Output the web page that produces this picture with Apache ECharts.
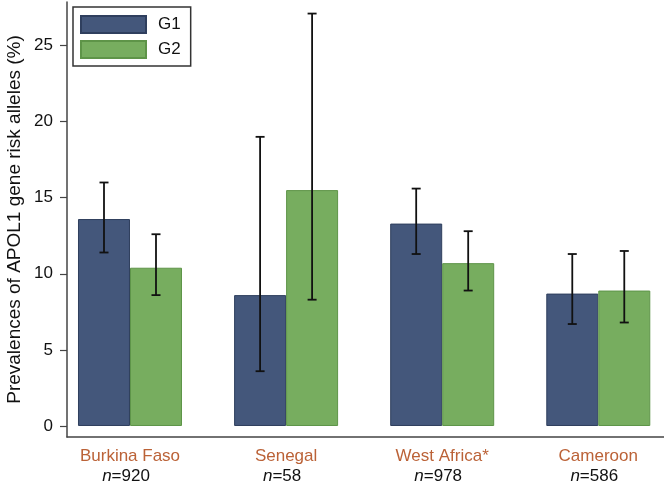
<!DOCTYPE html>
<html>
<head>
<meta charset="utf-8">
<script src="https://cdn.jsdelivr.net/npm/echarts@6/dist/echarts.min.js"></script>
<style>
html,body{margin:0;padding:0;background:#fff;}
#chart{width:664px;height:484px;}
</style>
</head>
<body>
<div id="chart"></div>
<script>
const categories = ['Burkina Faso', 'Senegal', 'West Africa*', 'Cameroon'];
const sampleSizes = [920, 58, 978, 586];
const seriesNames = ['G1', 'G2'];
const g1Values = [13.6, 8.6, 13.3, 8.7];
const g2Values = [10.4, 15.5, 10.7, 8.9];
const g1Low = [11.4, 3.6, 11.3, 6.7];
const g1High = [16.0, 19.0, 15.6, 11.3];
const g2Low = [8.6, 8.3, 8.9, 6.8];
const g2High = [12.6, 27.1, 12.8, 11.5];
const yTicks = [0, 5, 10, 15, 20, 25];

const FONT = '"Liberation Sans", Arial, Helvetica, sans-serif';
const BAR_W = 52;
const colors = ['#44577b', '#77ad5f'];
const borders = ['#2f3f5e', '#5e9448'];

function errSeries(low, high, side) {
  return {
    type: 'custom',
    z: 10,
    data: low.map((l, i) => [i, l, high[i]]),
    encode: { x: 0, y: [1, 2] },
    renderItem: function (params, api) {
      const i = api.value(0);
      const pLo = api.coord([i, api.value(1)]);
      const pHi = api.coord([i, api.value(2)]);
      const x = pLo[0] + side * BAR_W / 2;
      const cap = 4.5;
      const st = { stroke: '#111', lineWidth: 1.8 };
      return {
        type: 'group',
        children: [
          { type: 'line', shape: { x1: x, y1: pHi[1], x2: x, y2: pLo[1] }, style: st },
          { type: 'line', shape: { x1: x - cap, y1: pHi[1], x2: x + cap, y2: pHi[1] }, style: st },
          { type: 'line', shape: { x1: x - cap, y1: pLo[1], x2: x + cap, y2: pLo[1] }, style: st }
        ]
      };
    }
  };
}

const chart = echarts.init(document.getElementById('chart'));
chart.setOption({
  animation: false,
  backgroundColor: '#fff',
  textStyle: { fontFamily: FONT },
  grid: { left: 67, right: 0, top: 2, bottom: 47, containLabel: false, outerBoundsMode: 'none' },
  legend: {
    data: seriesNames,
    orient: 'vertical',
    left: 73,
    top: 7,
    itemWidth: 65,
    itemHeight: 17,
    itemGap: 6,
    padding: [8, 10, 7, 7],
    borderColor: '#333',
    borderWidth: 1.5,
    backgroundColor: '#fff',
    icon: 'rect',
    textStyle: { fontSize: 17, color: '#111', fontFamily: FONT, padding: [0, 0, 0, 7] }
  },
  xAxis: {
    type: 'value',
    min: -0.4036,
    max: 3.421,
    splitLine: { show: false },
    axisTick: { show: false },
    axisLine: { show: true, onZero: false, lineStyle: { color: '#444', width: 1.5 } },
    axisLabel: {
      customValues: [0, 1, 2, 3],
      margin: 9,
      formatter: function (v) {
        const i = Math.round(v);
        return '{c|' + categories[i] + '}\n{n|n}{m|=' + sampleSizes[i] + '}';
      },
      rich: {
        c: { fontSize: 17, color: '#bb6237', fontFamily: FONT, lineHeight: 20 },
        n: { fontSize: 17, color: '#111', fontStyle: 'italic', fontFamily: FONT, lineHeight: 20 },
        m: { fontSize: 17, color: '#111', fontFamily: FONT, lineHeight: 20, padding: [0, 8, 0, 0] }
      }
    }
  },
  yAxis: {
    type: 'value',
    min: -0.723,
    max: 27.86,
    name: 'Prevalences of APOL1 gene risk alleles (%)',
    nameLocation: 'middle',
    nameRotate: 90,
    nameGap: 43,
    nameMoveOverlap: false,
    nameTextStyle: { fontSize: 19, color: '#111', fontFamily: FONT },
    splitLine: { show: false },
    axisLine: { show: true, onZero: false, lineStyle: { color: '#444', width: 1.5 } },
    axisTick: { show: true, length: 7, customValues: yTicks, lineStyle: { color: '#444', width: 1.2 } },
    axisLabel: { customValues: yTicks, margin: 14, fontSize: 17, color: '#111', fontFamily: FONT }
  },
  series: [
    {
      name: seriesNames[0], type: 'bar', barWidth: BAR_W, barGap: '0%',
      itemStyle: { color: colors[0], borderColor: borders[0], borderWidth: 1 },
      data: g1Values.map((v, i) => [i, v])
    },
    {
      name: seriesNames[1], type: 'bar', barWidth: BAR_W, barGap: '0%',
      itemStyle: { color: colors[1], borderColor: borders[1], borderWidth: 1 },
      data: g2Values.map((v, i) => [i, v])
    },
    errSeries(g1Low, g1High, -1),
    errSeries(g2Low, g2High, 1)
  ]
});
</script>
</body>
</html>
